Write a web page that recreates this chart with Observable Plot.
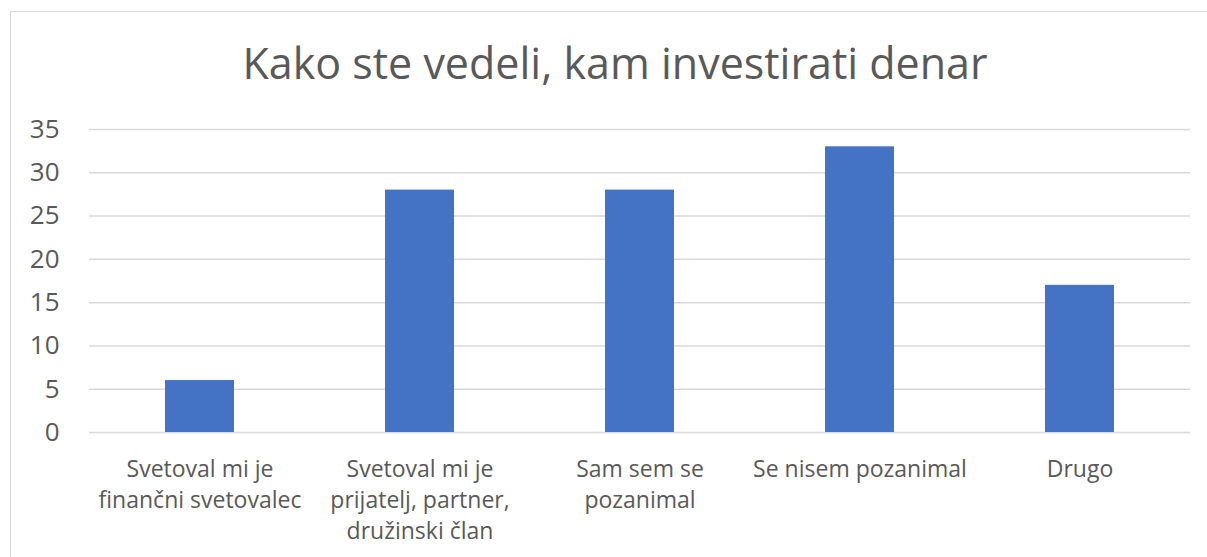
<!DOCTYPE html>
<html>
<head>
<meta charset="utf-8">
<script src="https://cdn.jsdelivr.net/npm/d3@7"></script>
<script src="https://cdn.jsdelivr.net/npm/@observablehq/plot@0.6"></script>
<style>
  html, body { margin: 0; padding: 0; background: #fff; width: 1207px; height: 557px; overflow: hidden; }
  #frame { position: absolute; left: 10px; top: 11px; width: 1220px; height: 600px; border: 1.5px solid #d9d9d9; box-sizing: border-box; }
  #title { position: absolute; left: 0; top: 41px; width: 1230px; text-align: center; font-family: "Open Sans", sans-serif; font-size: 43px; color: #595959; line-height: 1; }
  #chart { position: absolute; left: 0; top: 100px; }
</style>
</head>
<body>
<div id="frame"></div>
<div id="title">Kako ste vedeli, kam investirati denar</div>
<div id="chart"></div>
<script>
const categories = [
  "Svetoval mi je finančni svetovalec",
  "Svetoval mi je prijatelj, partner, družinski član",
  "Sam sem se pozanimal",
  "Se nisem pozanimal",
  "Drugo"
];
const tickLabels = [
  "Svetoval mi je\nfinančni svetovalec",
  "Svetoval mi je\nprijatelj, partner,\ndružinski član",
  "Sam sem se\npozanimal",
  "Se nisem pozanimal",
  "Drugo"
];
const values = [6, 28, 28, 33, 17];
const yTicks = [0, 5, 10, 15, 20, 25, 30, 35];

const data = categories.map((c, i) => ({category: c, value: values[i]}));
const labelOf = new Map(categories.map((c, i) => [c, tickLabels[i]]));

const chart = Plot.plot({
  width: 1207,
  height: 457,
  marginLeft: 89,
  marginRight: 17,
  marginTop: 29,
  marginBottom: 125,
  style: { fontFamily: "'Open Sans', sans-serif", color: "#595959", background: "transparent" },
  x: { domain: categories, paddingInner: 0.686, paddingOuter: 0.343, align: 0.5 },
  y: { domain: [0, 35] },
  marks: [
    Plot.gridY(yTicks, { stroke: "#d9d9d9", strokeOpacity: 1, strokeWidth: 1.5 }),
    Plot.barY(data, { x: "category", y: "value", fill: "#4472C4" }),
    Plot.axisY(yTicks, { tickSize: 0, tickPadding: 30, fontSize: 26, fill: "#595959", label: null }),
    Plot.axisX({ tickSize: 0, tickPadding: 22, fontSize: 23, fill: "#595959", label: null, lineHeight: 1.35, tickFormat: d => labelOf.get(d) })
  ]
});
document.getElementById("chart").appendChild(chart);
</script>
</body>
</html>
